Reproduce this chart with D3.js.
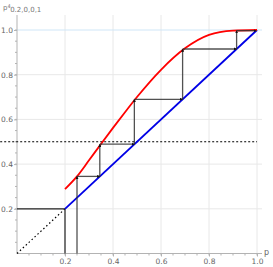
<!DOCTYPE html>
<html lang="en">
  <head>
    <meta charset="UTF-8" />
    <title></title>
    <script src="https://d3js.org/d3.v7.min.js"></script>
    <style>
      body { margin: 0; background: #fff; }
      text { font-family: 'DejaVu Sans', sans-serif; }
    </style>
  </head>
  <body>
    <div id="my_dataviz"></div>
    <script>
      // red curve
      const curveP = [0.2, 0.25, 0.3, 0.35, 0.4, 0.45, 0.5, 0.6, 0.7, 0.8, 0.9, 1.0]
      const curveF = [0.288, 0.345, 0.417, 0.49, 0.562, 0.632, 0.7, 0.822, 0.918, 0.978, 0.997, 1.0]
      // cobweb orbit, starting point 0.25
      const orbit = [0.25, 0.345, 0.489, 0.69, 0.915, 0.997]
      const ticks = [0.2, 0.4, 0.6, 0.8, 1.0]
      const start = 0.2
      const level = 0.5

      const W = 273, H = 267
      const x = d3.scaleLinear().domain([0, 1]).range([17, 257])
      const y = d3.scaleLinear().domain([0, 1]).range([253.5, 30])

      const svg = d3.select('#my_dataviz').append('svg')
        .attr('width', W).attr('height', H)

      const defs = svg.append('defs')
      defs.append('marker')
        .attr('id', 'arr')
        .attr('viewBox', '0 0 10 10')
        .attr('refX', 9).attr('refY', 5)
        .attr('markerWidth', 3).attr('markerHeight', 3)
        .attr('markerUnits', 'userSpaceOnUse')
        .attr('orient', 'auto')
        .append('path').attr('d', 'M0,0L10,5L0,10Z').attr('fill', '#111')

      // grid
      const grid = svg.append('g')
      grid.selectAll('.gx').data(ticks).join('line')
        .attr('x1', d => x(d)).attr('x2', d => x(d))
        .attr('y1', 15).attr('y2', y(0))
        .attr('stroke', '#e8e8e8').attr('stroke-width', 1)
      grid.selectAll('.gy').data(ticks).join('line')
        .attr('x1', x(0)).attr('x2', 262)
        .attr('y1', d => y(d)).attr('y2', d => y(d))
        .attr('stroke', d => d === 1 ? '#cfe6f7' : '#e8e8e8').attr('stroke-width', 1)

      // axes
      const axisCol = '#b3b3b3'
      svg.append('g')
        .attr('transform', `translate(0,${y(0)})`)
        .call(d3.axisBottom(x).tickValues(ticks).tickSize(4).tickFormat(d3.format('.1f')))
        .call(g => g.select('.domain').attr('d', `M${x(0)},0H262`).attr('stroke', axisCol))
        .call(g => g.selectAll('.tick line').attr('stroke', axisCol).attr('y2', 3))
        .call(g => g.selectAll('.tick text').attr('fill', '#666').attr('font-size', 7.5).attr('y', 5))
      svg.append('g')
        .attr('transform', `translate(0,${y(0)})`)
        .selectAll('line').data(d3.range(0.05, 1.001, 0.05)).join('line')
        .attr('x1', d => x(d)).attr('x2', d => x(d)).attr('y1', 0).attr('y2', 2)
        .attr('stroke', axisCol)
      svg.append('g')
        .attr('transform', `translate(${x(0)},0)`)
        .call(d3.axisLeft(y).tickValues(ticks).tickSize(4).tickFormat(d3.format('.1f')))
        .call(g => g.select('.domain').attr('d', `M0,${y(0)}V15`).attr('stroke', axisCol))
        .call(g => g.selectAll('.tick line').attr('stroke', axisCol).attr('x2', -3))
        .call(g => g.selectAll('.tick text').attr('fill', '#666').attr('font-size', 7.5).attr('x', -4))
      svg.append('g')
        .attr('transform', `translate(${x(0)},0)`)
        .selectAll('line').data(d3.range(0.05, 1.001, 0.05)).join('line')
        .attr('x1', 0).attr('x2', -2).attr('y1', d => y(d)).attr('y2', d => y(d))
        .attr('stroke', axisCol)

      // axis labels
      const yl = svg.append('text').attr('x', 3).attr('y', 10).attr('fill', '#777').attr('font-size', 7)
      yl.append('tspan').text('p')
      yl.append('tspan').attr('font-size', 5).attr('dy', -2.5).text('4')
      yl.append('tspan').attr('font-size', 7).attr('dx', -0.5).attr('dy', 4).text('0.2,0,0,1')
      svg.append('text').attr('x', 264).attr('y', y(0) + 1).attr('fill', '#666').attr('font-size', 8).text('p')

      // dotted guides
      svg.append('line')
        .attr('x1', x(-0.07)).attr('x2', x(1.0)).attr('y1', y(level)).attr('y2', y(level))
        .attr('stroke', '#000').attr('stroke-width', 1).attr('stroke-dasharray', '2,2')
      svg.append('line')
        .attr('x1', x(0)).attr('y1', y(0)).attr('x2', x(start)).attr('y2', y(start))
        .attr('stroke', '#000').attr('stroke-width', 1.2).attr('stroke-dasharray', '1.5,2.5')

      // start lines
      svg.append('line')
        .attr('x1', x(0)).attr('x2', x(start)).attr('y1', y(start)).attr('y2', y(start))
        .attr('stroke', '#222').attr('stroke-width', 1.2)
      svg.append('line')
        .attr('x1', x(start)).attr('x2', x(start)).attr('y1', y(0)).attr('y2', y(start))
        .attr('stroke', '#222').attr('stroke-width', 1.2)

      // diagonal
      svg.append('line')
        .attr('x1', x(start)).attr('y1', y(start)).attr('x2', x(1)).attr('y2', y(1))
        .attr('stroke', '#0000e6').attr('stroke-width', 1.8)

      // red curve
      const line = d3.line().x(d => x(d[0])).y(d => y(d[1])).curve(d3.curveMonotoneX)
      svg.append('path')
        .datum(d3.zip(curveP, curveF))
        .attr('d', line)
        .attr('fill', 'none').attr('stroke', '#f00').attr('stroke-width', 1.8)

      // cobweb
      const segs = []
      segs.push([[orbit[0], 0], [orbit[0], orbit[1]]])
      for (let i = 1; i < orbit.length; i++) {
        segs.push([[orbit[i - 1], orbit[i]], [orbit[i], orbit[i]]])
        if (i + 1 < orbit.length) segs.push([[orbit[i], orbit[i]], [orbit[i], orbit[i + 1]]])
      }
      svg.append('g').selectAll('line').data(segs).join('line')
        .attr('x1', d => x(d[0][0])).attr('y1', d => y(d[0][1]))
        .attr('x2', d => x(d[1][0])).attr('y2', d => y(d[1][1]))
        .attr('stroke', '#333').attr('stroke-opacity', 0.85).attr('stroke-width', 1.3)
        .attr('marker-end', 'url(#arr)')
    </script>
  </body>
</html>
